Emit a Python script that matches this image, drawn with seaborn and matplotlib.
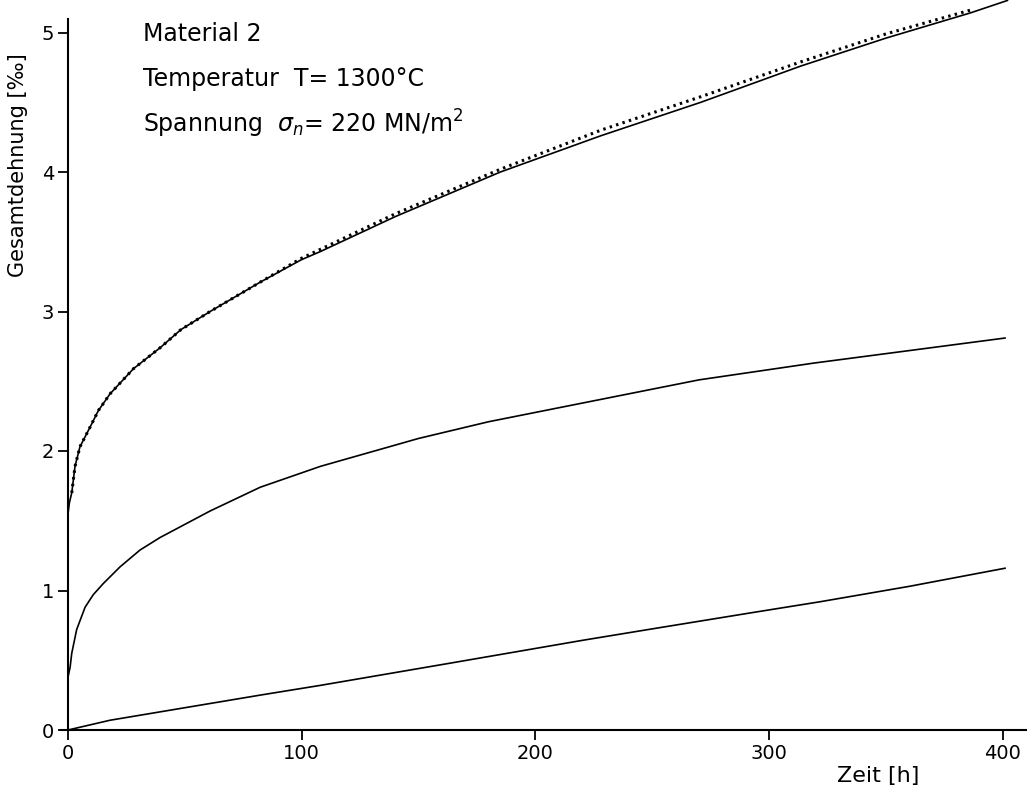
import matplotlib
matplotlib.use("Agg")
import matplotlib.pyplot as plt
import seaborn as sns

# --- data ---
top_x = [0, 0.6, 1.6, 3, 5.1, 9.4, 13, 18, 28, 39.4, 48.3, 60.8, 82.2, 99.7, 108, 140, 185, 228, 270.8, 313.6, 350, 386, 402]
top_y = [1.55, 1.63, 1.70, 1.89, 2.03, 2.17, 2.29, 2.41, 2.59, 2.74, 2.87, 3.00, 3.21, 3.37, 3.43, 3.68, 4.00, 4.26, 4.50, 4.76, 4.96, 5.14, 5.23]

dot_x = [1.6, 3, 5.1, 9.4, 13, 18, 28, 39.4, 48.3, 60.8, 82.2, 99.7, 140, 185, 228, 270.8, 313.6, 350, 386]
dot_y = [1.70, 1.89, 2.03, 2.17, 2.29, 2.41, 2.59, 2.74, 2.87, 3.00, 3.21, 3.38, 3.70, 4.02, 4.30, 4.54, 4.79, 4.99, 5.16]

mid_x = [0, 0.9, 1.6, 3.7, 7.3, 10.8, 15.1, 22.3, 30.8, 39.4, 60.8, 82.2, 108, 150, 180, 228, 270, 319, 360, 401]
mid_y = [0.38, 0.45, 0.55, 0.72, 0.88, 0.97, 1.05, 1.17, 1.29, 1.38, 1.57, 1.74, 1.89, 2.09, 2.21, 2.37, 2.51, 2.63, 2.72, 2.81]

low_x = [0, 18, 39.4, 60.8, 82.2, 108, 163.8, 220.9, 250, 292.2, 322, 360, 401]
low_y = [0, 0.07, 0.13, 0.19, 0.25, 0.32, 0.48, 0.645, 0.725, 0.84, 0.92, 1.03, 1.16]

x_ticks = [0, 100, 200, 300, 400]
y_ticks = [0, 1, 2, 3, 4, 5]

sns.set_theme(style="ticks")
plt.rcParams["font.family"] = ["DejaVu Sans"]
plt.rcParams["mathtext.fontset"] = "dejavusans"
plt.rcParams["text.color"] = "black"
plt.rcParams["axes.labelcolor"] = "black"

fig = plt.figure(figsize=(10.27, 7.90), dpi=100)
ax = fig.add_axes([61 / 1027, 1 - 730 / 790, 966 / 1027, 730 / 790])

lw = 1.2
sns.lineplot(x=top_x, y=top_y, ax=ax, color="black", lw=lw, sort=False, estimator=None)
sns.lineplot(x=mid_x, y=mid_y, ax=ax, color="black", lw=lw, sort=False, estimator=None)
sns.lineplot(x=low_x, y=low_y, ax=ax, color="black", lw=lw, sort=False, estimator=None)
sns.lineplot(x=dot_x, y=dot_y, ax=ax, color="black", lw=2.2, linestyle=(0, (0.8, 1.4)),
             sort=False, estimator=None)

ax.set_xlim(-3, 410.3)
ax.set_ylim(0, 730 / 139.5)
ax.spines["left"].set_position(("data", 0))
ax.spines["left"].set_bounds(0, 5.1)
ax.spines["top"].set_visible(False)
ax.spines["right"].set_visible(False)
for s in ("left", "bottom"):
    ax.spines[s].set_linewidth(1.5)
    ax.spines[s].set_color("black")

ax.set_xticks(x_ticks)
ax.set_yticks(y_ticks)
ax.tick_params(axis="both", direction="out", length=7, width=1.3, colors="black",
               labelsize=14, pad=3)

ax.set_xlabel("Zeit [h]", fontsize=16)
ax.xaxis.set_label_coords((878 - 61) / 966, (730 - 776) / 730)
ax.set_ylabel("Gesamtdehnung [‰]", fontsize=15)
ax.yaxis.set_label_coords((18 - 61) / 966, (730 - 165) / 730)
ax.yaxis.label.set_va("center")
ax.xaxis.label.set_va("center")

tx = (143 - 61) / 966
fs = 17
ax.text(tx, (730 - 34) / 730, "Material 2", transform=ax.transAxes, fontsize=fs, va="center", ha="left")
ax.text(tx, (730 - 79) / 730, "Temperatur  T= 1300°C", transform=ax.transAxes, fontsize=fs, va="center", ha="left")
ax.text(tx, (730 - 124) / 730, r"Spannung  $\sigma_n$= 220 MN/m$^2$", transform=ax.transAxes, fontsize=fs, va="center", ha="left")

ax.grid(False)
fig.savefig("out.png", dpi=100, facecolor="white")
